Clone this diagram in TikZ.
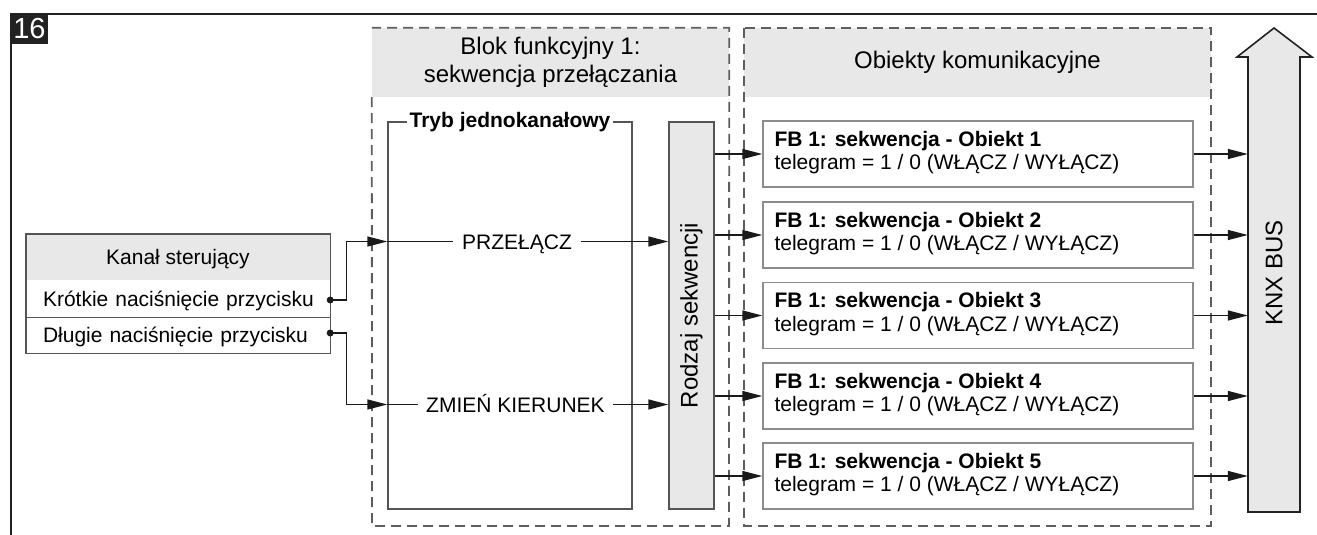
\documentclass[tikz,border=0pt]{standalone}
\usepackage{fontspec}
\setmainfont{Liberation Sans}
\usetikzlibrary{arrows.meta,calc}

\definecolor{hdrfill}{HTML}{E8E8E8}
\definecolor{framec}{HTML}{222222}
\definecolor{boxc}{HTML}{555555}
\definecolor{dashc}{HTML}{5E5E5E}
\definecolor{objc}{HTML}{8C8C8C}
\definecolor{linec}{HTML}{1A1A1A}

\begin{document}
\begin{tikzpicture}[x=1pt,y=-1pt,
  body/.style={font=\fontsize{21}{25}\selectfont},
  bodyb/.style={font=\fontsize{21}{25}\selectfont\bfseries},
  head/.style={font=\fontsize{24}{27}\selectfont},
  capbox/.style={text height=15pt, text depth=0pt},
  conn/.style={draw=linec, line width=1.4pt},
  arr/.style={conn, -{Triangle[length=20pt,width=10pt]}},
  dashbox/.style={draw=dashc, line width=1.8pt, dash pattern=on 10pt off 6pt},
  rowbox/.style={body, capbox, text width=270pt, inner xsep=17pt, inner ysep=0pt,
                 minimum height=37pt, align=left},
  objbox/.style={draw=objc, line width=1.4pt, minimum width=430pt, minimum height=66pt,
                 inner sep=0pt, fill=white},
  dot/.style={circle, fill=linec, inner sep=0pt, minimum size=7pt}
]
\useasboundingbox (0,0) rectangle (1317,535);

% outer frame and figure number
\draw[framec, line width=2.6pt] (11,535) -- (11,14) -- (1317,14);
\node[fill=framec, text=white, font=\fontsize{29}{30}\selectfont, inner sep=0pt,
      minimum width=37pt, minimum height=30pt] (fignum) at (29.5,29) {16};

% control channel block
\node[body, capbox, fill=hdrfill, minimum width=304pt, minimum height=46pt, inner sep=0pt]
  (kanal) at (178,257) {Kanał sterujący};
\node[rowbox] (krot) at (178,298.5) {\mbox{Krótkie naciśnięcie przycisku}};
\node[rowbox] (dlug) at (178,335) {\mbox{Długie naciśnięcie przycisku}};
\draw[boxc, line width=1.4pt] (kanal.north west) rectangle (dlug.south east);
\draw[boxc, line width=1.4pt] (krot.south west) -- (krot.south east);

% function block frame
\node[head, fill=hdrfill, align=center, minimum width=357pt, minimum height=69pt, inner sep=0pt]
  (fbhead) at (550.5,62.5) {Blok funkcyjny 1:\\[1pt]sekwencja przełączania};
\draw[dashbox] (fbhead.south west) -- (372,526) -- (729,526) -- (fbhead.north east) -- (fbhead.north west);

% communication objects frame
\node[head, fill=hdrfill, minimum width=467pt, minimum height=69pt, inner sep=0pt]
  (obhead) at (977.5,62.5) {Obiekty komunikacyjne};
\draw[dashbox] (obhead.north west) rectangle (1211,526);

% single-channel mode box
\node[draw=boxc, line width=1.4pt, minimum width=244pt, minimum height=387pt, inner sep=0pt]
  (tryb) at (510,315.5) {};
\node[bodyb, capbox, fill=white, inner xsep=3pt, inner ysep=0pt] (trybt) at ($(tryb.north)+(0,-1)$)
  {Tryb jednokanałowy};

% sequence type bar
\node[draw=boxc, fill=hdrfill, line width=1.4pt, minimum width=45pt, minimum height=387pt, inner sep=0pt]
  (rodz) at (691.5,315.5) {};
\node[head, rotate=90, inner sep=0pt] (rodzt) at (rodz.center) {Rodzaj sekwencji};

% inner signals
\node[body, capbox, inner xsep=9pt, inner ysep=0pt] (przel) at (517,241.5) {PRZEŁĄCZ};
\node[body, capbox, inner xsep=8pt, inner ysep=0pt] (zmien) at (515.5,404.5) {ZMIEŃ KIERUNEK};

% KNX bus arrow
\draw[framec, fill=hdrfill, line width=1.6pt]
  (1248,512) -- (1248,57) -- (1237,57) -- (1274,28) -- (1312,57) -- (1300,57) -- (1300,512) -- cycle;
\node[minimum width=52pt, minimum height=455pt, inner sep=0pt] (knx) at (1274,284.5) {};
\node[head, rotate=90, inner sep=0pt] (knxt) at (1274,273) {KNX BUS};

% communication objects
\foreach \i/\yy in {1/154,2/235,3/315.5,4/396,5/476}{
  \node[objbox] (obj\i) at (978,\yy) {};
  \node[bodyb, anchor=base west, inner sep=0pt] (obj\i a) at ($(obj\i.west)+(12,-8)$)
    {FB 1: sekwencja - Obiekt \i};
  \node[body, anchor=base west, inner sep=0pt] (obj\i b) at ($(obj\i.west)+(12,15.5)$)
    {telegram = 1 / 0 (WŁĄCZ / WYŁĄCZ)};
  \draw[arr] (rodz.east |- obj\i.west) -- (obj\i.west);
  \draw[arr] (obj\i.east) -- (obj\i.east -| knx.west);
}

% connections from the control channel
\coordinate (kp) at ($(krot.east)+(0,1.5)$);
\coordinate (dp) at ($(dlug.east)+(0,-2)$);
\draw[arr] (kp) -- ++(16,0) |- (tryb.west |- przel);
\draw[arr] (dp) -- ++(16,0) |- (tryb.west |- zmien);
\node[dot] (kdot) at (kp) {};
\node[dot] (ddot) at (dp) {};
\draw[conn] (tryb.west |- przel) -- (przel.west);
\draw[conn] (tryb.west |- zmien) -- (zmien.west);
\draw[arr] (przel.east) -- (rodz.west |- przel);
\draw[arr] (zmien.east) -- (rodz.west |- zmien);
\end{tikzpicture}
\end{document}
